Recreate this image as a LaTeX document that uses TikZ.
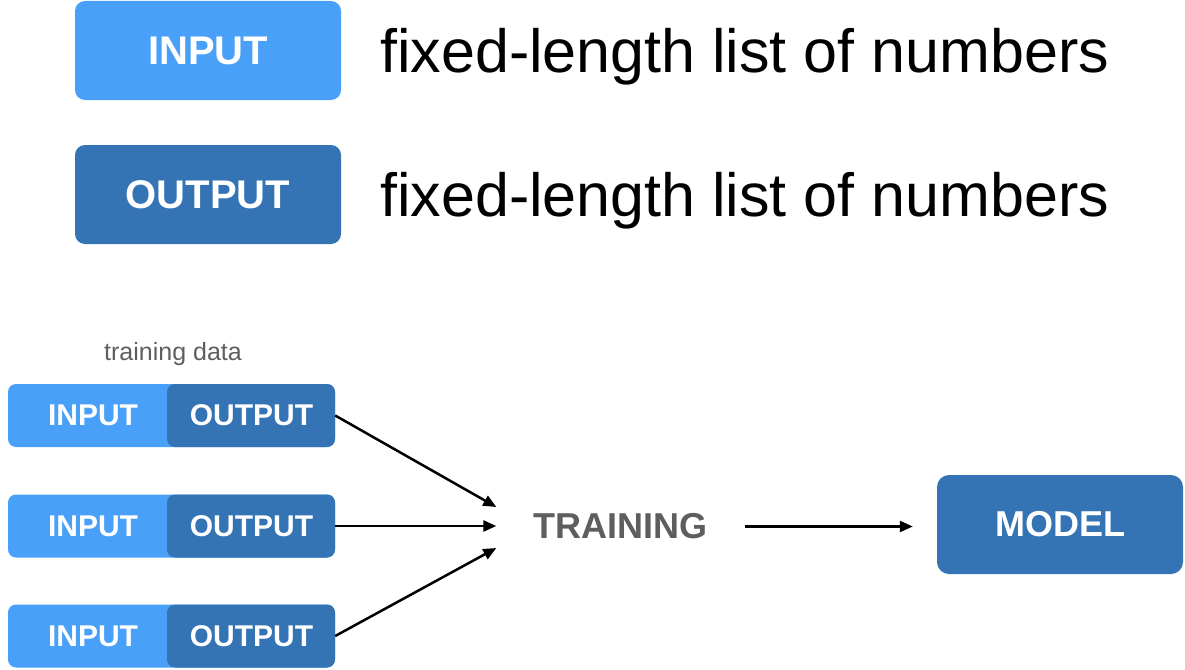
\documentclass[tikz,border=0pt]{standalone}
\usepackage{fontspec}
\setmainfont{Liberation Sans}
\usetikzlibrary{arrows.meta}
\definecolor{lightblue}{HTML}{48A0F8}
\definecolor{darkblue}{HTML}{3474B5}
\definecolor{graytext}{HTML}{5E5E5E}
\begin{document}
\begin{tikzpicture}[x=1pt,y=-1pt,
  bigbox/.style={rounded corners=10pt, minimum width=266pt, minimum height=99pt, inner sep=0pt, text=white, font=\fontsize{40}{48}\selectfont\bfseries},
  rowbox/.style={rounded corners=8pt, minimum height=63pt, inner sep=0pt},
  rowtext/.style={text=white, font=\fontsize{30}{36}\selectfont\bfseries, inner sep=0pt},
  bigtext/.style={anchor=base west, inner sep=0pt, font=\fontsize{61}{72}\selectfont},
  conn/.style={line width=2.5pt, -{Triangle[length=13pt,width=11pt]}}
]
\useasboundingbox (0,0) rectangle (1185,669);

% legend
\node[bigbox, fill=lightblue] (inbox) at (208,50.5) {INPUT};
\node[bigbox, fill=darkblue] (outbox) at (208,194.5) {OUTPUT};
\node[bigtext] (intext) at (380,72) {fixed-length list of numbers};
\node[bigtext] (outtext) at (380,216) {fixed-length list of numbers};

% training data
\node[text=graytext, font=\fontsize{25}{30}\selectfont, inner sep=0pt] (tdlabel) at (173,354) {training data};

\foreach \i/\y in {1/415.5, 2/526, 3/636}{
  \node[rowbox, fill=lightblue, minimum width=327pt] (r\i) at (171.5,\y) {};
  \node[rowbox, fill=darkblue, minimum width=168pt] (r\i out) at (251,\y) {};
  \node[rowtext] (r\i intext) at (93,\y) {INPUT};
  \node[rowtext] (r\i outtext) at (251.5,\y) {OUTPUT};
}

\node[text=graytext, font=\fontsize{36}{43}\selectfont\bfseries, inner xsep=37pt, inner ysep=0pt] (training) at (620.5,526.5) {TRAINING};

\node[rounded corners=12pt, fill=darkblue, minimum width=246pt, minimum height=99pt, inner sep=0pt, text=white, font=\fontsize{36}{43}\selectfont\bfseries] (model) at (1060,524.5) {MODEL};

\coordinate (t1) at ([yshift=19.5pt]training.west);
\coordinate (t3) at ([yshift=-21.5pt]training.west);
\draw[conn] (r1.east) -- (t1);
\draw[conn] (r2.east) -- (r2.east -| training.west);
\draw[conn] (r3.east) -- (t3);
\draw[conn] (training.east) -- ([xshift=-24pt]training.east -| model.west);
\end{tikzpicture}
\end{document}
